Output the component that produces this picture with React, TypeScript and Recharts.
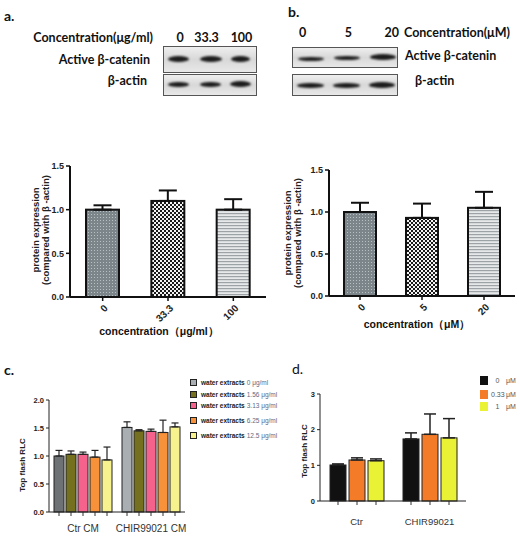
import React from 'react';
import { BarChart, Bar, XAxis, YAxis, ErrorBar } from 'recharts';

// ---------- data ----------
const aCats = ['0', '33.3', '100'];
const aVals = [1.0, 1.1, 1.0];
const aErrs = [0.05, 0.12, 0.12];

const bCats = ['0', '5', '20'];
const bVals = [1.0, 0.93, 1.05];
const bErrs = [0.11, 0.17, 0.19];

const abPatterns = ['patDots', 'patChecker', 'patLines'];

const cCats = ['Ctr CM', 'CHIR99021 CM'];
const cDoses = ['0 μg/ml', '1.56 μg/ml', '3.13 μg/ml', '6.25 μg/ml', '12.5 μg/ml'];
const cVals = [
  [1.0, 1.51],
  [1.03, 1.45],
  [1.03, 1.44],
  [0.98, 1.42],
  [0.93, 1.52],
];
const cErrs = [
  [0.1, 0.1],
  [0.06, 0.02],
  [0.04, 0.04],
  [0.12, 0.22],
  [0.23, 0.07],
];
const cColors = [
  ['#6e7274', '#a9aeb3'],
  ['#74701f', '#74701f'],
  ['#f5628b', '#f5628b'],
  ['#f8923a', '#f8923a'],
  ['#f7f28e', '#f7f28e'],
];
const cLegendColors = ['#a9aeb3', '#74701f', '#f5628b', '#f8923a', '#f7f28e'];

const dCats = ['Ctr', 'CHIR99021'];
const dDoses = ['0', '0.33', '1'];
const dUnit = 'μM';
const dVals = [
  [1.01, 1.74],
  [1.15, 1.87],
  [1.13, 1.77],
];
const dErrs = [
  [0.03, 0.17],
  [0.06, 0.57],
  [0.05, 0.54],
];
const dColors = ['#111111', '#f47b28', '#eaf235'];

const blotALanes = ['0', '33.3', '100'];
const blotBLanes = ['0', '5', '20'];
const blotRows = ['Active β-catenin', 'β-actin'];

// ---------- table builders ----------
const abRows = (cats: string[], vals: number[], errs: number[]) =>
  cats.map((c, i) => ({ cat: c, v: vals[i], e: [0, errs[i]] }));

const groupRows = (cats: string[], vals: number[][], errs: number[][]) =>
  cats.map((c, gi) => {
    const row: any = { cat: c };
    vals.forEach((s, si) => {
      row['v' + si] = s[gi];
      row['e' + si] = [0, errs[si][gi]];
    });
    return row;
  });

const aData = abRows(aCats, aVals, aErrs);
const bData = abRows(bCats, bVals, bErrs);
const cData = groupRows(cCats, cVals, cErrs);
const dData = groupRows(dCats, dVals, dErrs);

// ---------- styling helpers ----------
const FONT = '"Liberation Sans", Arial, sans-serif';
const BLOT_FONT = 'Lato, "Open Sans", sans-serif';

const patternShape = (props: any) => {
  const { x, y, width, height, index } = props;
  return (
    <rect x={x} y={y} width={width} height={height} fill={`url(#${abPatterns[index]})`} stroke="#111" strokeWidth={2} />
  );
};

const makeShape = (colors: string[]) => (props: any) => {
  const { x, y, width, height, index } = props;
  const bottom = y + height;
  const cx = x + width / 2;
  return (
    <g>
      <rect x={x} y={y} width={width} height={height} fill={colors[index]} stroke="#222" strokeWidth={1} />
      <line x1={cx} x2={cx} y1={bottom} y2={bottom + 4} stroke="#333" strokeWidth={1} />
    </g>
  );
};

const AngledTick = (props: any) => {
  const { x, y, payload } = props;
  return (
    <g transform={`translate(${x + 3},${y + 3})`}>
      <text x={0} y={0} dy={4} transform="rotate(-45)" textAnchor="end" fontSize={10} fontWeight={700} fill="#222" fontFamily={FONT}>
        {payload.value}
      </text>
    </g>
  );
};

const abs = (left: number, top: number, extra: any = {}): React.CSSProperties => ({
  position: 'absolute',
  left,
  top,
  whiteSpace: 'nowrap',
  ...extra,
});

const Blot = ({ left, top, width, height, bands }: any) => (
  <div
    style={abs(left, top, {
      width,
      height,
      border: '1px solid #555',
      boxSizing: 'border-box',
      background: 'linear-gradient(#eeeeee, #d8d8d8 50%, #e8e8e8)',
      overflow: 'hidden',
    })}
  >
    {bands.map((b: any, i: number) => (
      <div
        key={i}
        style={abs(b.x, b.y, {
          width: b.w,
          height: b.h,
          borderRadius: '50%',
          background: '#1c1c1c',
          filter: 'blur(0.8px)',
        })}
      />
    ))}
  </div>
);

const RotLabel = ({ cx, cy, lines, size, weight = 700 }: any) => (
  <div
    style={abs(cx, cy, {
      transform: 'translate(-50%, -50%) rotate(-90deg)',
      fontSize: size,
      fontWeight: weight,
      fontFamily: FONT,
      color: '#222',
      textAlign: 'center',
      lineHeight: 1.1,
    })}
  >
    {lines.map((l: string, i: number) => (
      <div key={i}>{l}</div>
    ))}
  </div>
);

const yTickStyle = { fontSize: 9, fontWeight: 700, fill: '#222', fontFamily: FONT };
const ySmallTick = { fontSize: 7.5, fontWeight: 700, fill: '#222', fontFamily: FONT };

export default function App() {
  return (
    <div
      style={{
        position: 'fixed',
        left: 0,
        top: 0,
        width: 520,
        height: 537,
        background: '#fff',
        overflow: 'hidden',
        fontFamily: FONT,
        color: '#111',
      }}
    >
      <svg width={0} height={0} style={{ position: 'absolute' }}>
        <defs>
          <pattern id="patDots" width={3} height={3} patternUnits="userSpaceOnUse">
            <rect width={3} height={3} fill="#7b858a" />
            <rect x={1} y={1} width={1} height={1} fill="#b8c0c4" />
          </pattern>
          <pattern id="patChecker" width={4} height={4} patternUnits="userSpaceOnUse">
            <rect width={4} height={4} fill="#f4f4f4" />
            <rect x={0} y={0} width={2} height={2} fill="#1a1a1a" />
            <rect x={2} y={2} width={2} height={2} fill="#1a1a1a" />
          </pattern>
          <pattern id="patLines" width={4} height={3} patternUnits="userSpaceOnUse">
            <rect width={4} height={3} fill="#e6e8e9" />
            <rect x={0} y={0} width={4} height={1.2} fill="#9ca2a6" />
          </pattern>
        </defs>
      </svg>

      {/* ---------- panel titles ---------- */}
      <div style={abs(4, 7, { fontSize: 14, fontWeight: 700, fontFamily: BLOT_FONT })}>a.</div>
      <div style={abs(288, 3, { fontSize: 14, fontWeight: 700, fontFamily: BLOT_FONT })}>b.</div>
      <div style={abs(4, 361, { fontSize: 14, fontWeight: 700, fontFamily: BLOT_FONT })}>c.</div>
      <div style={abs(292, 360, { fontSize: 14, fontWeight: 400, fontFamily: BLOT_FONT })}>d.</div>

      {/* ---------- blot a ---------- */}
      <div style={abs(153, 30, { transform: 'translateX(-100%)', fontSize: 12.5, fontWeight: 700, fontFamily: BLOT_FONT })}>
        Concentration(μg/ml)
      </div>
      {blotALanes.map((l, i) => (
        <div key={l} style={abs([180, 206.5, 241.5][i], 30, { transform: 'translateX(-50%)', fontSize: 12.5, fontWeight: 700, fontFamily: BLOT_FONT })}>
          {l}
        </div>
      ))}
      <div style={abs(150, 52, { transform: 'translateX(-100%)', fontSize: 12.5, fontWeight: 700, fontFamily: BLOT_FONT })}>
        {blotRows[0]}
      </div>
      <div style={abs(147, 73, { transform: 'translateX(-100%)', fontSize: 12.5, fontWeight: 700, fontFamily: BLOT_FONT })}>
        {blotRows[1]}
      </div>
      <Blot
        left={163}
        top={46}
        width={94}
        height={27}
        bands={[
          { x: 4, y: 9, w: 21, h: 6 },
          { x: 36, y: 9, w: 22, h: 6 },
          { x: 67, y: 9, w: 19, h: 6 },
        ]}
      />
      <Blot
        left={163}
        top={74}
        width={94}
        height={22}
        bands={[
          { x: 4, y: 7, w: 21, h: 5 },
          { x: 36, y: 7, w: 21, h: 5 },
          { x: 66, y: 6, w: 21, h: 6 },
        ]}
      />

      {/* ---------- blot b ---------- */}
      {blotBLanes.map((l, i) => (
        <div key={l} style={abs([302.7, 348.3, 391.7][i], 25, { transform: 'translateX(-50%)', fontSize: 12.5, fontWeight: 700, fontFamily: BLOT_FONT })}>
          {l}
        </div>
      ))}
      <div style={abs(404, 25, { fontSize: 12.5, fontWeight: 700, fontFamily: BLOT_FONT })}>Concentration(μM)</div>
      <div style={abs(405, 48, { fontSize: 12.5, fontWeight: 700, fontFamily: BLOT_FONT })}>{blotRows[0]}</div>
      <div style={abs(415, 73, { fontSize: 12.5, fontWeight: 700, fontFamily: BLOT_FONT })}>{blotRows[1]}</div>
      <Blot
        left={292}
        top={47}
        width={106}
        height={21}
        bands={[
          { x: 5, y: 9, w: 26, h: 4 },
          { x: 41, y: 8, w: 26, h: 4 },
          { x: 77, y: 6, w: 26, h: 6 },
        ]}
      />
      <Blot
        left={292}
        top={74}
        width={106}
        height={22}
        bands={[
          { x: 4, y: 8, w: 27, h: 5 },
          { x: 40, y: 8, w: 27, h: 5 },
          { x: 76, y: 7, w: 26, h: 6 },
        ]}
      />

      {/* ---------- chart a ---------- */}
      <div style={abs(0, 150)}>
        <BarChart width={270} height={200} data={aData} margin={{ top: 16, right: 4, left: 0, bottom: 0 }}>
          <XAxis
            dataKey="cat"
            height={53}
            tick={<AngledTick />}
            tickSize={4}
            axisLine={{ stroke: '#111', strokeWidth: 2 }}
            tickLine={{ stroke: '#111', strokeWidth: 1.5 }}
            interval={0}
          />
          <YAxis
            width={70}
            domain={[0, 1.5]}
            ticks={[0, 0.5, 1, 1.5]}
            tickFormatter={(v: number) => v.toFixed(1)}
            tick={yTickStyle}
            tickSize={4}
            axisLine={{ stroke: '#111', strokeWidth: 2 }}
            tickLine={{ stroke: '#111', strokeWidth: 1.5 }}
          />
          <Bar dataKey="v" barSize={33} shape={patternShape} isAnimationActive={false}>
            <ErrorBar dataKey="e" direction="y" width={9} stroke="#111" strokeWidth={2} />
          </Bar>
        </BarChart>
      </div>
      <RotLabel cx={41} cy={230} size={9.5} lines={['protein expression', '(compared with β -actin)']} />
      <div style={abs(159, 325, { transform: 'translateX(-50%)', fontSize: 10.5, fontWeight: 700 })}>
        concentration（μg/ml）
      </div>

      {/* ---------- chart b ---------- */}
      <div style={abs(259, 150)}>
        <BarChart width={258} height={200} data={bData} margin={{ top: 20, right: 2, left: 0, bottom: 0 }}>
          <XAxis
            dataKey="cat"
            height={54}
            tick={<AngledTick />}
            tickSize={4}
            axisLine={{ stroke: '#111', strokeWidth: 2 }}
            tickLine={{ stroke: '#111', strokeWidth: 1.5 }}
            interval={0}
          />
          <YAxis
            width={70}
            domain={[0, 1.5]}
            ticks={[0, 0.5, 1, 1.5]}
            tickFormatter={(v: number) => v.toFixed(1)}
            tick={yTickStyle}
            tickSize={4}
            axisLine={{ stroke: '#111', strokeWidth: 2 }}
            tickLine={{ stroke: '#111', strokeWidth: 1.5 }}
          />
          <Bar dataKey="v" barSize={32} shape={patternShape} isAnimationActive={false}>
            <ErrorBar dataKey="e" direction="y" width={9} stroke="#111" strokeWidth={2} />
          </Bar>
        </BarChart>
      </div>
      <RotLabel cx={293} cy={233} size={9.5} lines={['protein expression', '(compared with β -actin)']} />
      <div style={abs(417, 318, { transform: 'translateX(-50%)', fontSize: 10.5, fontWeight: 700 })}>
        concentration（μM）
      </div>

      {/* ---------- chart c ---------- */}
      <div style={abs(0, 385)}>
        <BarChart width={187} height={155} data={cData} margin={{ top: 15, right: 2, left: 0, bottom: 3 }} barGap={2}>
          <XAxis
            dataKey="cat"
            height={25}
            tickLine={false}
            tickSize={0}
            tickMargin={13}
            tick={{ fontSize: 10, fill: '#333', fontFamily: FONT }}
            axisLine={{ stroke: '#222', strokeWidth: 1 }}
            interval={0}
          />
          <YAxis
            width={49}
            domain={[0, 2]}
            ticks={[0, 0.5, 1, 1.5, 2]}
            tickFormatter={(v: number) => v.toFixed(1)}
            tick={ySmallTick}
            tickSize={3}
            axisLine={{ stroke: '#222', strokeWidth: 1 }}
            tickLine={{ stroke: '#222', strokeWidth: 1 }}
          />
          {cVals.map((_, si) => (
            <Bar key={si} dataKey={'v' + si} barSize={10} shape={makeShape(cColors[si])} isAnimationActive={false}>
              <ErrorBar dataKey={'e' + si} direction="y" width={3.5} stroke="#222" strokeWidth={1.2} />
            </Bar>
          ))}
        </BarChart>
      </div>
      <RotLabel cx={23} cy={465} size={8} lines={['Top flash RLC']} />
      {cDoses.map((d, i) => (
        <div key={d} style={abs(190, [379, 390.5, 402, 416.5, 431.5][i], { display: 'flex', alignItems: 'center', fontSize: 6.5 })}>
          <span
            style={{
              width: 5,
              height: 5,
              border: '1.5px solid #222',
              background: cLegendColors[i],
              display: 'inline-block',
              marginRight: 4,
            }}
          />
          <span style={{ fontWeight: 700, color: '#222', marginRight: 2 }}>water extracts</span>
          <span style={{ color: '#5b6a86' }}>{d}</span>
        </div>
      ))}

      {/* ---------- chart d ---------- */}
      <div style={abs(271, 380)}>
        <BarChart width={197} height={150} data={dData} margin={{ top: 14, right: 2, left: 0, bottom: 4 }} barGap={3}>
          <XAxis
            dataKey="cat"
            height={25}
            tickLine={false}
            tickSize={0}
            tickMargin={17}
            tick={{ fontSize: 9.5, fill: '#333', fontFamily: FONT }}
            axisLine={{ stroke: '#222', strokeWidth: 1 }}
            interval={0}
          />
          <YAxis
            width={49}
            domain={[0, 3]}
            ticks={[0, 1, 2, 3]}
            tick={ySmallTick}
            tickSize={3}
            axisLine={{ stroke: '#222', strokeWidth: 1 }}
            tickLine={{ stroke: '#222', strokeWidth: 1 }}
          />
          {dVals.map((_, si) => (
            <Bar key={si} dataKey={'v' + si} barSize={16} shape={makeShape([dColors[si], dColors[si]])} isAnimationActive={false}>
              <ErrorBar dataKey={'e' + si} direction="y" width={6} stroke="#222" strokeWidth={1.5} />
            </Bar>
          ))}
        </BarChart>
      </div>
      <RotLabel cx={305} cy={451} size={8} lines={['Top flash RLC']} />
      {dDoses.map((d, i) => (
        <div key={d} style={abs(480, [375.5, 389.5, 402][i], { display: 'flex', alignItems: 'center', fontSize: 7 })}>
          <span style={{ width: 8, height: 9, background: dColors[i], display: 'inline-block', marginRight: 3 }} />
          <span style={{ width: 13, textAlign: 'center', display: 'inline-block', color: '#555' }}>{d}</span>
          <span style={{ marginLeft: 2, color: '#555' }}>{dUnit}</span>
        </div>
      ))}
    </div>
  );
}
